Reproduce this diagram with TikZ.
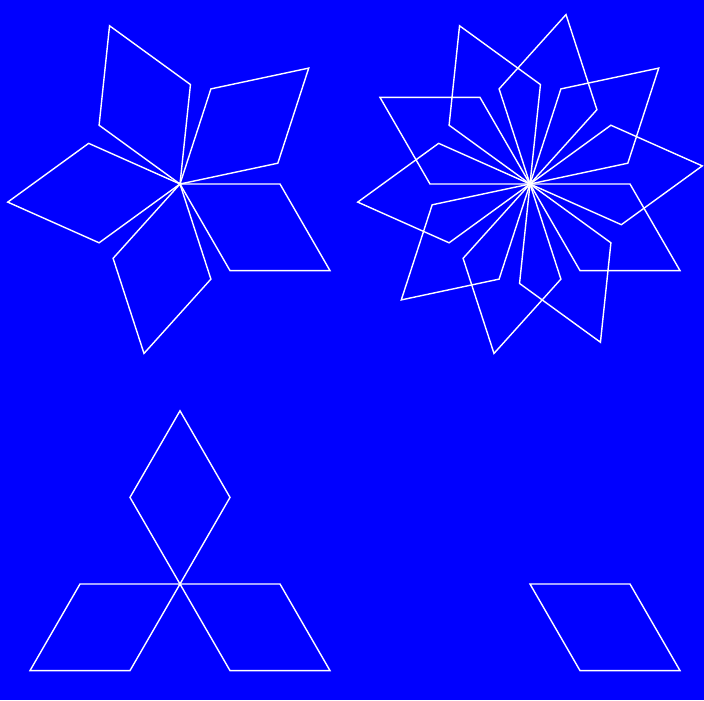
\documentclass[tikz,border=0pt]{standalone}
\usepackage{xcolor}
\usepackage{tikz}
\usetikzlibrary{calc}

\definecolor{bgblue}{RGB}{0,0,255}

\tikzset{
    petal/.style={draw=white, line width=0.4pt, line join=miter}
}

% one 60 degree rhombus, side 1, first edge at angle #2, from point #1
\newcommand{\rhomb}[2]{%
    \draw[petal] #1 -- ++(#2:1) -- ++(#2-60:1) -- ++(#2+180:1) -- cycle;
}

\begin{document}
\begin{tikzpicture}
% background
\fill[bgblue] (0,0) rectangle (7.04,7.00);
\useasboundingbox (0,0) rectangle (7.04,7.00);

% centres
\coordinate (fiveC) at (1.80,5.16);
\coordinate (tenC) at (5.30,5.16);
\coordinate (threeC) at (1.80,1.16);
\coordinate (oneC) at (5.30,1.16);

% five petals
\foreach \k in {0,...,4} {
    \rhomb{(fiveC)}{\k*72}
}

% ten petals
\foreach \k in {0,...,9} {
    \rhomb{(tenC)}{\k*36}
}

% three petals
\foreach \k in {0,1,2} {
    \rhomb{(threeC)}{\k*120}
}

% single petal
\rhomb{(oneC)}{0}

\end{tikzpicture}
\end{document}
